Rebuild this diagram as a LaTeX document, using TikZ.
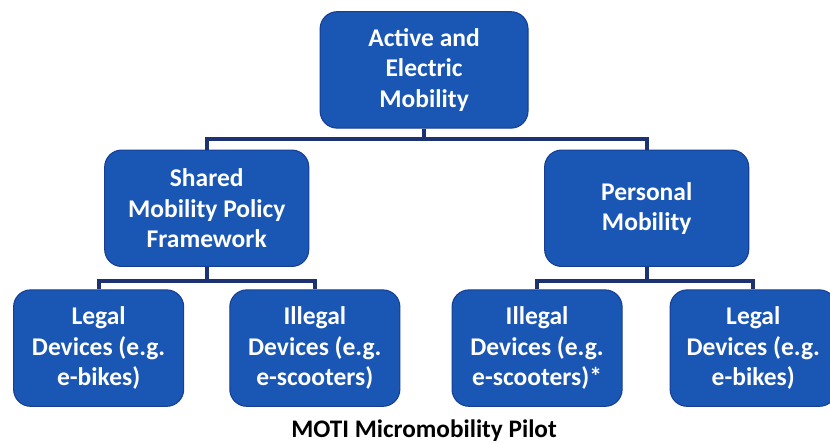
\documentclass[tikz,border=0pt]{standalone}
\usepackage{fontspec}
\setmainfont{Carlito}
\usetikzlibrary{positioning}

\definecolor{boxblue}{RGB}{26,86,180}
\definecolor{boxedge}{RGB}{22,62,148}
\definecolor{linenavy}{RGB}{28,50,115}

\begin{document}
\begin{tikzpicture}[every node/.style={align=center},on grid]

	\tikzstyle{box}=[rectangle,rounded corners=4.5mm,draw=boxedge,thick,fill=boxblue,
	text=white,font=\bfseries\fontsize{19.2}{22.7}\selectfont,minimum height=3.08cm]
	\tikzstyle{top box}=[box,minimum width=5.5cm]
	\tikzstyle{mid box}=[box,minimum width=5.4cm]
	\tikzstyle{leaf box}=[box,minimum width=4.5cm]
	\tikzstyle{tree}=[draw=linenavy,line width=3pt]

	\useasboundingbox (0,0) rectangle (21.96,-11.75);

		\node [top box] (active) at (11.22,-1.85) {Active and\\Electric\\Mobility};
		\node [mid box] (shared) [below left=3.66cm and 5.75cm of active] {Shared\\Mobility Policy\\Framework};
		\node [mid box] (personal) [below right=3.66cm and 5.89cm of active] {Personal\\Mobility};
		\node [leaf box] (legalS) [below left=3.7cm and 2.86cm of shared] {Legal\\Devices (e.g.\\e-bikes)};
		\node [leaf box] (illegalS) [below right=3.7cm and 2.86cm of shared] {Illegal\\Devices (e.g.\\e-scooters)};
		\node [leaf box] (illegalP) [below left=3.7cm and 2.9cm of personal] {Illegal\\Devices (e.g.\\e-scooters)*};
		\node [leaf box,minimum width=4.4cm] (legalP) [below right=3.7cm and 2.82cm of personal] {Legal\\Devices (e.g.\\e-bikes)};
		\node (pilot) [below=9.55cm of active,font=\bfseries\fontsize{19}{22.7}\selectfont] {MOTI Micromobility Pilot};

		\draw[tree] (active.south) -- ++(0,-0.27) -| (shared.north);
		\draw[tree] (active.south) -- ++(0,-0.27) -| (personal.north);
		\draw[tree] (shared.south) -- ++(0,-0.37) -| (legalS.north);
		\draw[tree] (shared.south) -- ++(0,-0.37) -| (illegalS.north);
		\draw[tree] (personal.south) -- ++(0,-0.37) -| (illegalP.north);
		\draw[tree] (personal.south) -- ++(0,-0.37) -| (legalP.north);

\end{tikzpicture}
\end{document}
